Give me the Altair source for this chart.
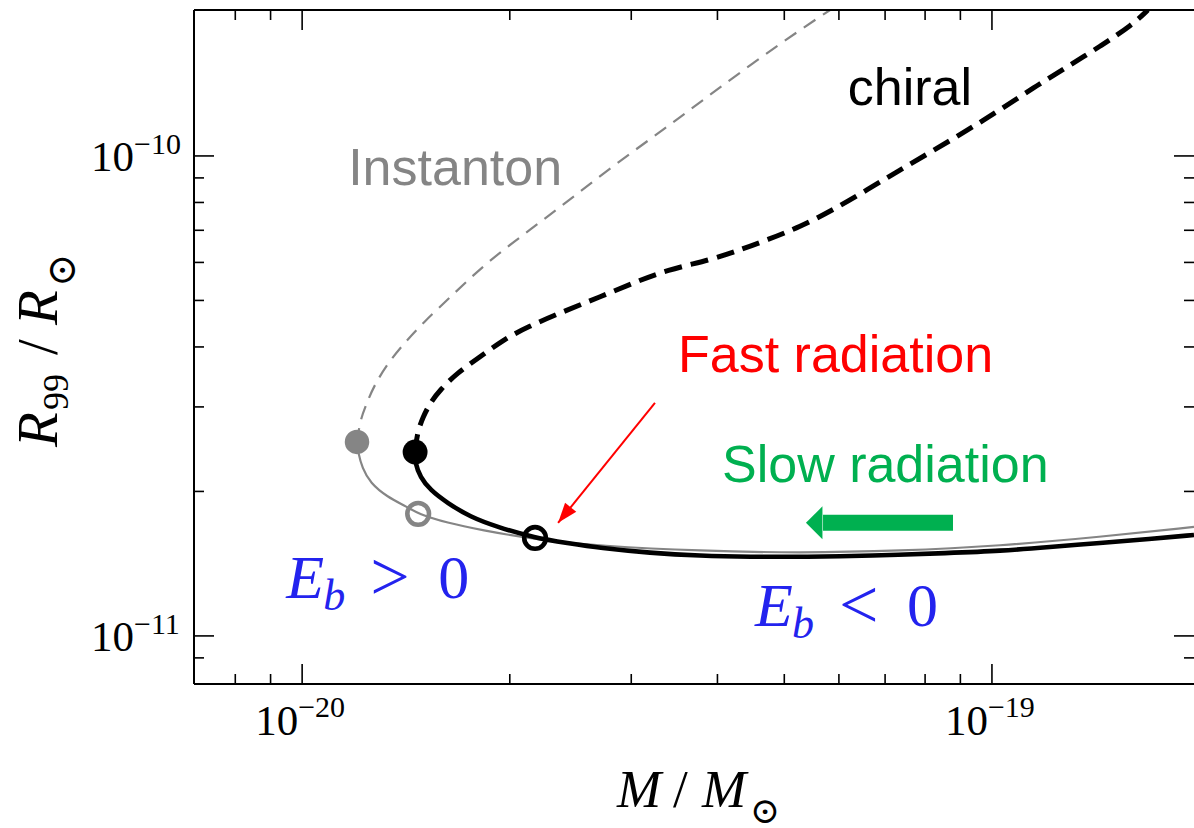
import altair as alt
import pandas as pd

# ---------------- values ----------------
# Instanton: unstable branch (dashed) and stable branch (solid)
inst_unstable_M = [1.201e-20, 1.214e-20, 1.238e-20, 1.272e-20, 1.341e-20, 1.420e-20, 1.497e-20,
                   1.623e-20, 1.854e-20, 2.140e-20, 2.471e-20, 2.861e-20, 3.336e-20, 3.864e-20,
                   4.504e-20, 5.269e-20, 5.825e-20]
inst_unstable_R = [2.536e-11, 2.818e-11, 3.028e-11, 3.333e-11, 3.758e-11, 4.137e-11, 4.488e-11,
                   5.012e-11, 6.015e-11, 7.013e-11, 8.215e-11, 9.670e-11, 1.133e-10, 1.327e-10,
                   1.562e-10, 1.830e-10, 2.014e-10]
inst_stable_M = [1.201e-20, 1.206e-20, 1.222e-20, 1.255e-20, 1.328e-20, 1.420e-20, 1.473e-20,
                 1.623e-20, 1.811e-20, 2.191e-20, 2.704e-20, 3.774e-20, 5.269e-20, 7.357e-20,
                 1.027e-19, 1.434e-19, 1.963e-19]
inst_stable_R = [2.536e-11, 2.405e-11, 2.239e-11, 2.083e-11, 1.948e-11, 1.857e-11, 1.796e-11,
                 1.720e-11, 1.663e-11, 1.585e-11, 1.540e-11, 1.503e-11, 1.489e-11, 1.503e-11,
                 1.540e-11, 1.608e-11, 1.687e-11]

# chiral: unstable branch (dashed) and stable branch (solid)
chiral_unstable_M = [1.458e-20, 1.468e-20, 1.497e-20, 1.533e-20, 1.585e-20, 1.677e-20, 1.811e-20,
                     1.956e-20, 2.119e-20, 2.422e-20, 2.704e-20, 3.018e-20, 3.381e-20, 3.902e-20,
                     4.313e-20, 4.719e-20, 5.269e-20, 5.884e-20, 6.589e-20, 7.357e-20, 8.213e-20,
                     9.200e-20, 1.027e-19, 1.147e-19, 1.284e-19, 1.434e-19, 1.601e-19, 1.683e-19]
chiral_unstable_R = [2.416e-11, 2.648e-11, 2.859e-11, 3.058e-11, 3.254e-11, 3.531e-11, 3.813e-11,
                     4.137e-11, 4.402e-11, 4.777e-11, 5.084e-11, 5.437e-11, 5.786e-11, 6.071e-11,
                     6.370e-11, 6.683e-11, 7.114e-11, 7.718e-11, 8.494e-11, 9.351e-11, 1.025e-10,
                     1.130e-10, 1.247e-10, 1.385e-10, 1.532e-10, 1.690e-10, 1.880e-10, 2.014e-10]
chiral_stable_M = [1.458e-20, 1.458e-20, 1.483e-20, 1.533e-20, 1.623e-20, 1.752e-20, 1.917e-20,
                   2.176e-20, 2.422e-20, 2.704e-20, 3.193e-20, 3.774e-20, 4.459e-20, 5.375e-20,
                   6.656e-20, 8.693e-20, 1.027e-19, 1.213e-19, 1.434e-19, 1.694e-19, 1.963e-19]
chiral_stable_R = [2.416e-11, 2.293e-11, 2.144e-11, 2.014e-11, 1.893e-11, 1.770e-11, 1.687e-11,
                   1.600e-11, 1.562e-11, 1.525e-11, 1.489e-11, 1.468e-11, 1.461e-11, 1.461e-11,
                   1.468e-11, 1.489e-11, 1.503e-11, 1.532e-11, 1.562e-11, 1.592e-11, 1.623e-11]

# special points
turn_M = [1.201e-20, 1.458e-20]          # filled: instanton, chiral
turn_R = [2.536e-11, 2.416e-11]
open_M = [1.473e-20, 2.176e-20]          # open: instanton, chiral
open_R = [1.796e-11, 1.600e-11]

# annotation anchors (data coordinates)
red_arrow_M = [3.247e-20, 2.350e-20]     # start, tip
red_arrow_R = [3.058e-11, 1.720e-11]
green_arrow_M = [5.375e-20, 5.690e-20, 8.781e-20]   # tip, head base, tail
green_arrow_R = 1.720e-11
label_text = ["chiral", "Instanton", "Fast radiation", "Slow radiation"]
label_M = [6.18e-20, 1.166e-20, 3.507e-20, 4.061e-20]
label_R = [1.277e-10, 8.70e-11, 3.548e-11, 2.093e-11]
eb_M = [9.48e-21, 4.534e-20]
eb_R = [1.200e-11, 1.049e-11]
eb_rel = [">", "<"]

# axes
XDOM = [6.97e-21, 1.963e-19]
YDOM = [7.94e-12, 2.014e-10]
x_major = [1e-20, 1e-19]
x_major_exp = ["\u221220", "\u221219"]
x_minor = [8e-21, 9e-21, 2e-20, 3e-20, 4e-20, 5e-20, 6e-20, 7e-20, 8e-20, 9e-20]
y_major = [1e-11, 1e-10]
y_major_exp = ["\u221211", "\u221210"]
y_minor = [9e-12, 2e-11, 3e-11, 4e-11, 5e-11, 6e-11, 7e-11, 8e-11, 9e-11]

# ---------------- chart ----------------
W, H = 1000, 674
SERIF = "Liberation Serif, Times New Roman, DejaVu Serif, serif"
SANS = "Liberation Sans, Arial, sans-serif"
GRAY = "#858585"
BLUE = "#2323EE"
GREEN = "#00B050"

xs = alt.Scale(type="log", domain=XDOM)
ys = alt.Scale(type="log", domain=YDOM)


def X(f="M"):
    return alt.X(f"{f}:Q", scale=xs, axis=None)


def Y(f="R"):
    return alt.Y(f"{f}:Q", scale=ys, axis=None)


def curve(M, R, color, width, dash=None):
    df = pd.DataFrame({"M": M, "R": R, "i": list(range(len(M)))})
    kw = dict(color=color, strokeWidth=width, interpolate="basis", clip=True)
    if dash:
        kw["strokeDash"] = dash
    return alt.Chart(df).mark_line(**kw).encode(x=X(), y=Y(), order="i:Q")


layers = []
layers.append(curve(inst_unstable_M, inst_unstable_R, GRAY, 2.2, [14, 9]))
layers.append(curve(inst_stable_M, inst_stable_R, GRAY, 2.2))
layers.append(curve(chiral_unstable_M, chiral_unstable_R, "black", 5, [18, 9]))
layers.append(curve(chiral_stable_M, chiral_stable_R, "black", 4.6))

# turning points (filled) and open circles
layers.append(alt.Chart(pd.DataFrame({"M": turn_M[:1], "R": turn_R[:1]})).mark_point(
    shape="circle", filled=True, size=600, color=GRAY, opacity=1).encode(x=X(), y=Y()))
layers.append(alt.Chart(pd.DataFrame({"M": turn_M[1:], "R": turn_R[1:]})).mark_point(
    shape="circle", filled=True, size=620, color="black", opacity=1).encode(x=X(), y=Y()))
layers.append(alt.Chart(pd.DataFrame({"M": open_M[:1], "R": open_R[:1]})).mark_point(
    shape="circle", filled=False, size=470, strokeWidth=4.6, color=GRAY, opacity=1).encode(x=X(), y=Y()))
layers.append(alt.Chart(pd.DataFrame({"M": open_M[1:], "R": open_R[1:]})).mark_point(
    shape="circle", filled=False, size=470, strokeWidth=4.6, color="black", opacity=1).encode(x=X(), y=Y()))

# red arrow
red_df = pd.DataFrame({"M0": [red_arrow_M[0]], "R0": [red_arrow_R[0]],
                       "M": [red_arrow_M[1]], "R": [red_arrow_R[1]]})
layers.append(alt.Chart(red_df).mark_rule(color="#FF0000", strokeWidth=2).encode(
    x=X("M0"), y=Y("R0"), x2="M:Q", y2="R:Q"))
layers.append(alt.Chart(red_df).mark_point(
    shape="M 0 0 L 0.36 -1 L -0.36 -1 Z", filled=True, size=1600, angle=39,
    color="#FF0000", opacity=1).encode(x=X(), y=Y()))

# green arrow
g_df = pd.DataFrame({"M": [green_arrow_M[1]], "M2": [green_arrow_M[2]], "R": [green_arrow_R]})
layers.append(alt.Chart(g_df).mark_rule(color=GREEN, strokeWidth=16, strokeCap="butt").encode(
    x=X(), x2="M2:Q", y=Y()))
layers.append(alt.Chart(pd.DataFrame({"M": [green_arrow_M[0]], "R": [green_arrow_R]})).mark_point(
    shape="M 0 0 L 1 -1 L 1 1 Z", filled=True, size=1089, color=GREEN, opacity=1).encode(x=X(), y=Y()))


def dtext(txt, M, R, size, color, font, style="normal", dx=0, dy=0):
    df = pd.DataFrame({"M": [M], "R": [R]})
    return alt.Chart(df).mark_text(text=txt, align="left", baseline="alphabetic", fontSize=size,
                                   font=font, fontStyle=style, color=color, dx=dx, dy=dy).encode(
        x=X(), y=Y())


label_colors = ["black", GRAY, "#FF0000", GREEN]
for t, m, r, c in zip(label_text, label_M, label_R, label_colors):
    layers.append(dtext(t, m, r, 52, c, SANS))

for m, r, rel in zip(eb_M, eb_R, eb_rel):
    layers.append(dtext("E", m, r, 62, BLUE, SERIF, "italic"))
    layers.append(dtext("b", m, r, 44, BLUE, SERIF, "italic", dx=37, dy=12))
    layers.append(dtext(rel, m, r, 70, BLUE, SERIF, dx=84, dy=2))
    layers.append(dtext("0", m, r, 62, BLUE, SERIF, dx=152))

# frame
one = pd.DataFrame({"k": [0]})
FR = dict(color="black", strokeWidth=2)
layers.append(alt.Chart(one).mark_rule(**FR).encode(x=alt.value(0), y=alt.value(0), y2=alt.value(H)))
layers.append(alt.Chart(one).mark_rule(**FR).encode(x=alt.value(0), x2=alt.value(W), y=alt.value(H)))
layers.append(alt.Chart(one).mark_rule(**FR).encode(x=alt.value(0), x2=alt.value(W), y=alt.value(0)))

# inward ticks
TK = dict(color="black", strokeWidth=1.6)
xmaj = pd.DataFrame({"M": x_major, "exp": x_major_exp})
xmin = pd.DataFrame({"M": x_minor})
ymaj = pd.DataFrame({"R": y_major, "exp": y_major_exp})
ymin = pd.DataFrame({"R": y_minor})
for df, L in [(xmaj, 20), (xmin, 10)]:
    layers.append(alt.Chart(df).mark_rule(**TK).encode(x=X(), y=alt.value(H), y2=alt.value(H - L)))
    layers.append(alt.Chart(df).mark_rule(**TK).encode(x=X(), y=alt.value(0), y2=alt.value(L)))
for df, L in [(ymaj, 20), (ymin, 10)]:
    layers.append(alt.Chart(df).mark_rule(**TK).encode(y=Y(), x=alt.value(0), x2=alt.value(L)))
    layers.append(alt.Chart(df).mark_rule(**TK).encode(y=Y(), x=alt.value(W), x2=alt.value(W - L)))

# tick labels (10 with superscript exponent)
layers.append(alt.Chart(xmaj).mark_text(text="10", align="right", baseline="alphabetic", dx=-4,
                                        font=SERIF, fontSize=43, color="black").encode(
    x=X(), y=alt.value(725)))
layers.append(alt.Chart(xmaj).mark_text(align="left", baseline="alphabetic", dx=-4,
                                        font=SERIF, fontSize=30, color="black").encode(
    x=X(), y=alt.value(707), text="exp:N"))
layers.append(alt.Chart(ymaj).mark_text(text="10", align="right", baseline="alphabetic", dy=15,
                                        font=SERIF, fontSize=43, color="black").encode(
    y=Y(), x=alt.value(-60)))
layers.append(alt.Chart(ymaj).mark_text(align="left", baseline="alphabetic", dy=-2,
                                        font=SERIF, fontSize=30, color="black").encode(
    y=Y(), x=alt.value(-60), text="exp:N"))


def ptext(txt, x, y, size, style="normal", angle=0, dx=0, dy=0):
    return alt.Chart(one).mark_text(text=txt, align="left", baseline="alphabetic", fontSize=size,
                                    font=SERIF, fontStyle=style, color="black", angle=angle,
                                    dx=dx, dy=dy).encode(x=alt.value(x), y=alt.value(y))


# x title: M / M_sun
layers.append(ptext("M", 423, 797, 53, "italic"))
layers.append(ptext("/", 479, 797, 53))
layers.append(ptext("M", 508, 797, 53, "italic"))
layers.append(ptext("\u2299", 556, 813, 36))

# y title: R_99 / R_sun (rotated)
YX, YY = -137, 437
layers.append(ptext("R", YX, YY, 57, "italic", 270))
layers.append(ptext("99", YX, YY, 36, "normal", 270, dx=37, dy=11))
layers.append(ptext("/", YX, YY, 57, "normal", 270, dx=92))
layers.append(ptext("R", YX, YY, 57, "italic", 270, dx=122))
layers.append(ptext("\u2299", YX, YY, 40, "normal", 270, dx=160, dy=18))

chart = alt.layer(*layers).properties(
    width=W, height=H,
    autosize=alt.AutoSizeParams(type="none"),
    padding={"left": 194, "top": 10, "right": 0, "bottom": 144},
    background="white",
).configure_view(stroke=None)

chart.save("out.html", embed_options={"renderer": "svg", "actions": False})
